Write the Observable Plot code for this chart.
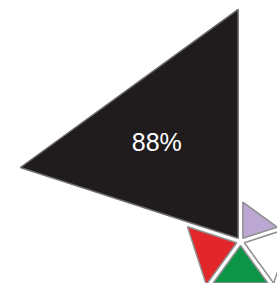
<!DOCTYPE html>
<html><head><meta charset="utf-8">
<script src="https://cdn.jsdelivr.net/npm/d3@7"></script>
<script src="https://cdn.jsdelivr.net/npm/@observablehq/plot@0.6"></script>
<style>html,body{margin:0;padding:0;background:#fff} svg{display:block}</style>
</head><body><div id="chart"></div>
<script>
// Slices clockwise from north
const categories = ["A", "B", "C", "D", "E"];
const values = [2.2, 4.2, 3.6, 4.5, 88];
const colors = ["#bca7d3", "#ffffff", "#0c9447", "#e3262a", "#201c1d"];
const strokes = ["#8f8f8f", "#8f8f8f", "#8f8f8f", "#8f8f8f", "#6e6e6e"];
const labels = ["", "", "", "", "88%"];

const n = categories.length;
const gap = 0.164; // explode offset (data units)
const pts = [];
const lab = [];
categories.forEach((c, i) => {
  const a0 = i * 2 * Math.PI / n, a1 = (i + 1) * 2 * Math.PI / n, am = (a0 + a1) / 2;
  const r = Math.sqrt(values[i]);
  const ox = gap * Math.sin(am), oy = gap * Math.cos(am);
  const base = {cat: c, color: colors[i], edge: strokes[i]};
  pts.push({...base, x: ox, y: oy});
  pts.push({...base, x: ox + r * Math.sin(a0), y: oy + r * Math.cos(a0)});
  pts.push({...base, x: ox + r * Math.sin(a1), y: oy + r * Math.cos(a1)});
  if (labels[i]) lab.push({text: labels[i], x: ox + 0.56 * r * Math.sin(am), y: oy + 0.56 * r * Math.cos(am)});
});

const k = 24.41; // px per unit
const cx = 240, cy = 241, W = 277, H = 283;
const chart = Plot.plot({
  width: W, height: H,
  margin: 0,
  x: {axis: null, domain: [-cx / k, (W - cx) / k], range: [0, W]},
  y: {axis: null, domain: [-(H - cy) / k, cy / k], range: [H, 0]},
  color: {type: "identity"},
  marks: [
    Plot.line(pts, {x: "x", y: "y", z: "cat", fill: "color", stroke: "edge", strokeWidth: 1.5, curve: "linear-closed", strokeLinejoin: "miter"}),
    Plot.text(lab, {x: "x", y: "y", text: "text", fill: "white", fontSize: 25, dx: -6, dy: 8, fontFamily: "Liberation Sans, Arial, sans-serif"})
  ]
});
document.getElementById("chart").append(chart);
</script>
</body></html>
